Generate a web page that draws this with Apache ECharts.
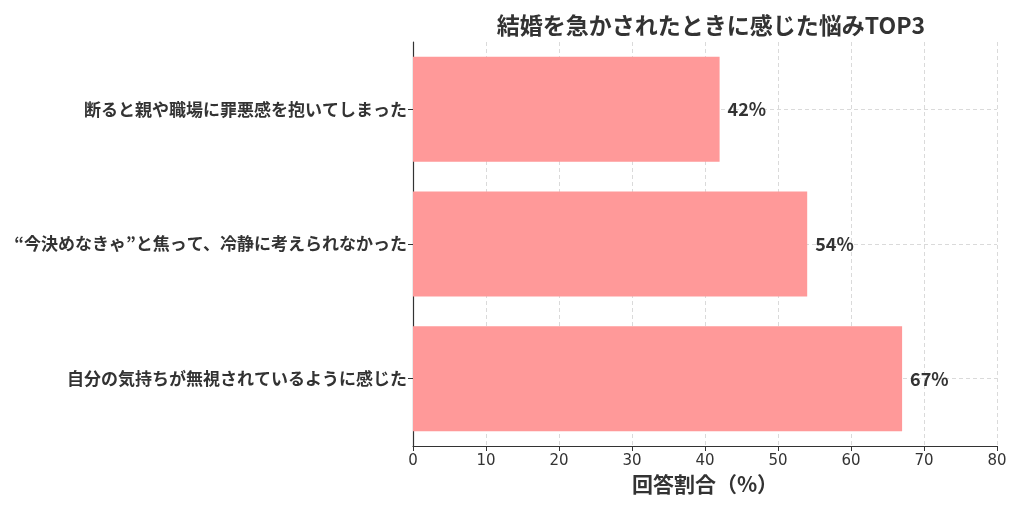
<!DOCTYPE html>
<html><head><meta charset="utf-8">
<script src="https://cdn.jsdelivr.net/npm/echarts@6/dist/echarts.min.js"></script>
<style>html,body{margin:0;padding:0;background:#fff}#c{width:1024px;height:512px}</style>
</head><body><div id="c"></div>
<script>
const categories = ['自分の気持ちが無視されているように感じた', '“今決めなきゃ”と焦って、冷静に考えられなかった', '断ると親や職場に罪悪感を抱いてしまった'];
const values = [67, 54, 42];
const xTicks = [0, 10, 20, 30, 40, 50, 60, 70, 80];
const titleText = '結婚を急かされたときに感じた悩みTOP3';
const xName = '回答割合（%）';

const jp = '"Noto Sans CJK JP", sans-serif';
const chart = echarts.init(document.getElementById('c'));
chart.setOption({
  animation: false,
  backgroundColor: '#fff',
  title: {
    text: titleText, left: 706, top: 9, textAlign: 'center',
    textStyle: { fontFamily: jp, fontWeight: 'bold', fontSize: 23, color: '#333' }
  },
  grid: { left: 413, right: 27, top: 42, bottom: 66, containLabel: false },
  xAxis: {
    type: 'value', min: xTicks[0], max: xTicks[xTicks.length - 1], interval: 10,
    name: xName, nameLocation: 'middle', nameGap: 25,
    nameTextStyle: { fontFamily: jp, fontWeight: 'bold', fontSize: 21, color: '#333', verticalAlign: 'top' },
    axisLine: { show: true, lineStyle: { color: '#333', width: 1.2 } },
    axisTick: { show: true, length: 5, lineStyle: { color: '#333' } },
    axisLabel: { fontFamily: 'DejaVu Sans', fontSize: 15, color: '#333', margin: 8 },
    splitLine: { show: true, lineStyle: { color: '#d0d0d0', type: [4, 3], width: 0.8 } }
  },
  yAxis: {
    type: 'category', data: categories,
    axisLine: { show: true, lineStyle: { color: '#333', width: 1.2 } },
    axisTick: { show: true, alignWithLabel: true, length: 5, lineStyle: { color: '#333' } },
    axisLabel: { fontFamily: jp, fontWeight: 'bold', fontSize: 17, color: '#333', margin: 6 },
    splitLine: { show: true, alignWithLabel: true, lineStyle: { color: '#d0d0d0', type: [4, 3], width: 0.8 } }
  },
  series: [{
    type: 'bar', data: values, barWidth: 105,
    itemStyle: { color: '#ff9999' },
    label: {
      show: true, position: 'right', distance: 8, formatter: '{c}%',
      fontFamily: jp, fontWeight: 'bold', fontSize: 18, color: '#333'
    }
  }]
});
</script></body></html>
